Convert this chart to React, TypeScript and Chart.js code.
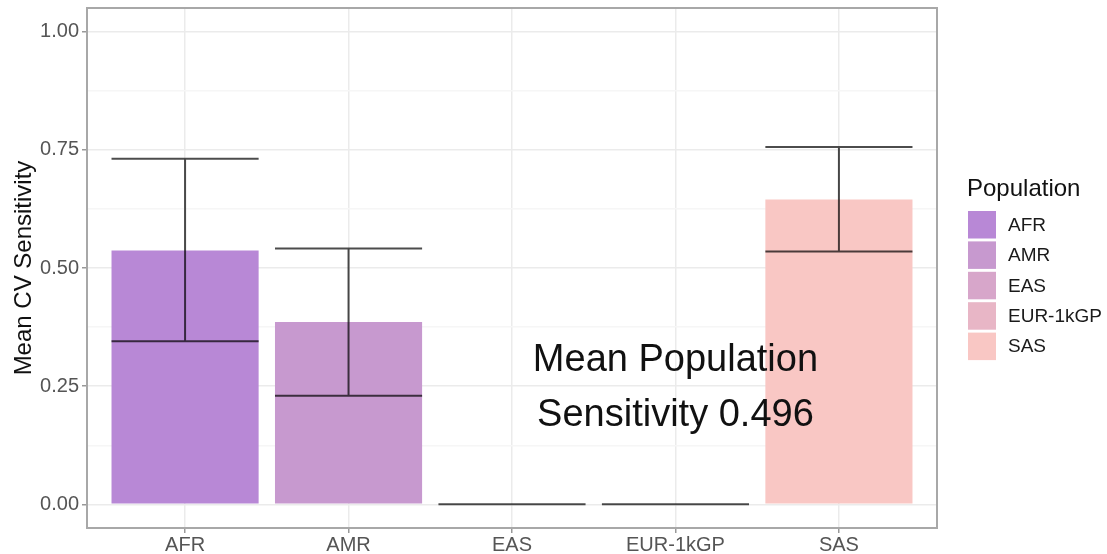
import React, { useEffect, useRef } from 'react';
import { Chart, registerables } from 'chart.js';

Chart.register(...registerables);

const categories = ['AFR', 'AMR', 'EAS', 'EUR-1kGP', 'SAS'];
const meanValues = [0.537, 0.386, 0, 0, 0.645];
const errorLow = [0.345, 0.23, 0, 0, 0.535];
const errorHigh = [0.731, 0.541, 0, 0, 0.756];
const barColors = ['#B888D6', '#C799CF', '#D7A6CA', '#E8B6C6', '#F9C7C4'];
const yMajorTicks = [0, 0.25, 0.5, 0.75, 1.0];
const yMinorTicks = [0.125, 0.375, 0.625, 0.875];
const yTitle = 'Mean CV Sensitivity';
const legendTitle = 'Population';
const annotationLines = ['Mean Population', 'Sensitivity 0.496'];
const annotationX = 3;
const annotationY = 0.25;

const FONT = '"Liberation Sans", Arial, Helvetica, sans-serif';

const isMajor = (v: number) => yMajorTicks.some((m) => Math.abs(m - v) < 1e-9);

const customPlugin = {
  id: 'customDecor',
  afterDatasetsDraw(chart: any) {
    const ctx = chart.ctx;
    const xs = chart.scales.x;
    const ys = chart.scales.y;
    const meta = chart.getDatasetMeta(0);
    // error bars
    ctx.save();
    ctx.strokeStyle = 'rgba(0,0,0,0.7)';
    ctx.lineWidth = 2;
    categories.forEach((_, i) => {
      const el = meta.data[i];
      const cx = el.x;
      const half = el.width / 2;
      const yLo = ys.getPixelForValue(errorLow[i]);
      const yHi = ys.getPixelForValue(errorHigh[i]);
      ctx.beginPath();
      ctx.moveTo(cx - half, yHi);
      ctx.lineTo(cx + half, yHi);
      ctx.moveTo(cx, yHi);
      ctx.lineTo(cx, yLo);
      ctx.moveTo(cx - half, yLo);
      ctx.lineTo(cx + half, yLo);
      ctx.stroke();
    });
    ctx.restore();

    // annotation
    ctx.save();
    const ax = xs.getPixelForValue(annotationX);
    const ay = ys.getPixelForValue(annotationY);
    ctx.fillStyle = '#111111';
    ctx.font = `38px ${FONT}`;
    ctx.textAlign = 'center';
    ctx.textBaseline = 'alphabetic';
    ctx.fillText(annotationLines[0], ax, ay - 15);
    ctx.fillText(annotationLines[1], ax, ay + 40);
    ctx.restore();
  },
  afterDraw(chart: any) {
    const ctx = chart.ctx;
    const area = chart.chartArea;
    // panel border
    ctx.save();
    ctx.strokeStyle = '#A8A8A8';
    ctx.lineWidth = 2;
    ctx.strokeRect(area.left, area.top, area.right - area.left, area.bottom - area.top);
    ctx.restore();

    // y title
    ctx.save();
    ctx.fillStyle = '#111111';
    ctx.font = `24px ${FONT}`;
    ctx.textAlign = 'center';
    ctx.textBaseline = 'alphabetic';
    ctx.translate(31, (area.top + area.bottom) / 2);
    ctx.rotate(-Math.PI / 2);
    ctx.fillText(yTitle, 0, 0);
    ctx.restore();

    // legend
    ctx.save();
    const lx = 967;
    ctx.fillStyle = '#111111';
    ctx.font = `24px ${FONT}`;
    ctx.textAlign = 'left';
    ctx.textBaseline = 'alphabetic';
    ctx.fillText(legendTitle, lx, 196);
    const keyTop = 211;
    const pitch = 30.4;
    categories.forEach((c, i) => {
      const ky = keyTop + i * pitch;
      ctx.fillStyle = barColors[i];
      ctx.fillRect(lx + 1, ky, 28, 27.5);
      ctx.fillStyle = '#1A1A1A';
      ctx.font = `19px ${FONT}`;
      ctx.textBaseline = 'middle';
      ctx.fillText(c, 1008, ky + 14.5);
    });
    ctx.restore();
  },
};

export default function App() {
  const canvasRef = useRef<HTMLCanvasElement | null>(null);

  useEffect(() => {
    document.body.style.margin = '0';
    const canvas = canvasRef.current;
    if (!canvas) return;
    const chart = new Chart(canvas, {
      type: 'bar',
      data: {
        datasets: [
          {
            label: 'Mean CV Sensitivity',
            data: categories.map((_, i) => ({ x: i, y: meanValues[i] })),
            backgroundColor: barColors,
            borderWidth: 0,
            categoryPercentage: 0.9,
            barPercentage: 1.0,
          },
        ],
      },
      options: {
        responsive: false,
        animation: false,
        devicePixelRatio: 1,
        layout: { padding: { left: 0, right: 170, top: 8, bottom: 0 } },
        plugins: {
          legend: { display: false },
          tooltip: { enabled: false },
          title: { display: false },
        },
        scales: {
          x: {
            type: 'linear',
            min: -0.6,
            max: 4.6,
            offset: false,
            afterBuildTicks: (axis: any) => {
              axis.ticks = categories.map((_, i) => ({ value: i }));
            },
            afterFit: (axis: any) => {
              axis.height = 26;
              axis.paddingLeft = 0;
              axis.paddingRight = 0;
            },
            grid: {
              offset: false,
              color: '#EBEBEB',
              lineWidth: 1.5,
              tickLength: 5,
              tickColor: '#999999',
              tickWidth: 1.5,
            },
            border: { display: false },
            ticks: {
              autoSkip: false,
              maxRotation: 0,
              minRotation: 0,
              padding: 0,
              color: '#555555',
              font: { family: FONT, size: 20 },
              callback: (v: any) => categories[Math.round(Number(v))] ?? '',
            },
          },
          y: {
            type: 'linear',
            min: -0.05,
            max: 1.05,
            afterBuildTicks: (axis: any) => {
              axis.ticks = [...yMajorTicks, ...yMinorTicks]
                .sort((a, b) => a - b)
                .map((v) => ({ value: v }));
            },
            afterFit: (axis: any) => {
              axis.width = 87;
              axis.paddingTop = 0;
              axis.paddingBottom = 0;
            },
            grid: {
              color: (c: any) => (c.tick && isMajor(c.tick.value) ? '#EBEBEB' : '#F6F6F6'),
              lineWidth: 1.5,
              tickLength: 5,
              tickColor: (c: any) =>
                c.tick && isMajor(c.tick.value) ? '#999999' : 'rgba(0,0,0,0)',
              tickWidth: 1.5,
            },
            border: { display: false },
            ticks: {
              padding: 3,
              color: '#555555',
              font: { family: FONT, size: 20 },
              callback: (v: any) => (isMajor(Number(v)) ? Number(v).toFixed(2) : ''),
            },
          },
        },
      },
      plugins: [customPlugin],
    } as any);
    return () => chart.destroy();
  }, []);

  return (
    <canvas
      ref={canvasRef}
      width={1107}
      height={554}
      style={{ display: 'block', width: 1107, height: 554 }}
    />
  );
}
